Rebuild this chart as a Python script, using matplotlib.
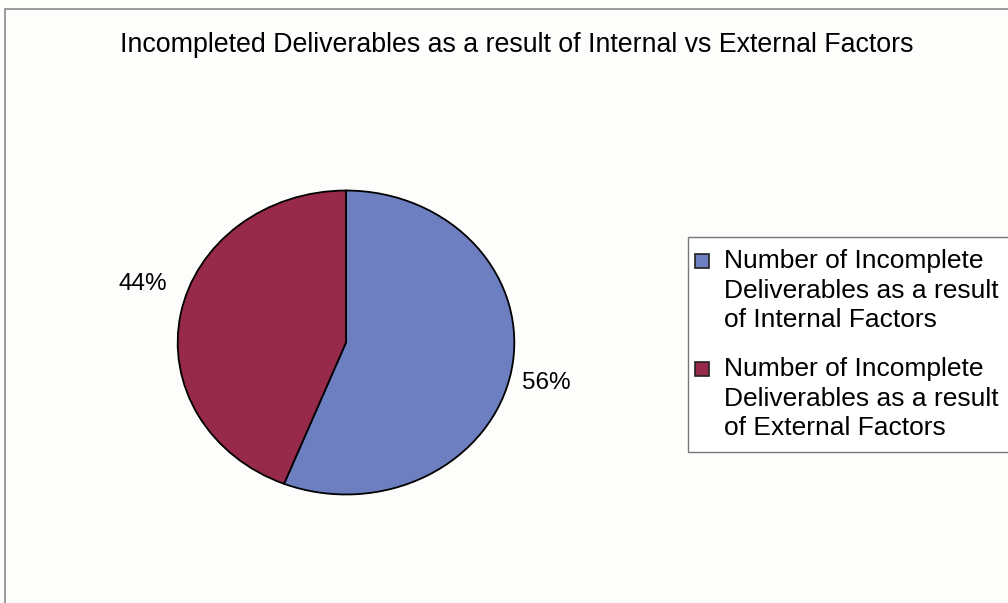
import matplotlib.pyplot as plt
from matplotlib.patches import Rectangle

title = 'Incompleted Deliverables as a result of Internal vs External Factors'
labels = ['Number of Incomplete\nDeliverables as a result\nof Internal Factors',
          'Number of Incomplete\nDeliverables as a result\nof External Factors']
shares = [56, 44]
colors = ['#6d7ec1', '#97294b']

plt.rcParams['font.family'] = ['Liberation Sans', 'DejaVu Sans']

W, H = 1008, 603
fig = plt.figure(figsize=(W / 100, H / 100), dpi=100)
fig.patch.set_facecolor('#fdfdfc')

# outer chart frame (runs off the right and bottom edges)
fig.patches.append(Rectangle((5 / W, -0.05), 1.1, (H - 9) / H + 0.05,
                             transform=fig.transFigure, fill=False,
                             edgecolor='#8a8a8a', linewidth=1.2))

fig.text(517 / W, 1 - 45 / H, title, ha='center', va='center', fontsize=19.3)

ax = fig.add_axes([176 / W, (H - 496) / H, 340 / W, 307 / H])
wedges, texts, autotexts = ax.pie(shares, colors=colors, startangle=90, counterclock=False,
                                  autopct='%1.0f%%', pctdistance=1.21,
                                  wedgeprops=dict(edgecolor='black', linewidth=1.3),
                                  textprops=dict(fontsize=17.5))
ax.set_aspect('auto')
ax.set_xlim(-1.01, 1.01)
ax.set_ylim(-1.01, 1.01)
# excel puts the left label a bit higher
x, y = autotexts[1].get_position()
autotexts[1].set_position((x - 0.02, y + 0.16))
x, y = autotexts[0].get_position()
autotexts[0].set_position((x, y - 0.04))

# legend box, handle lined up with the first line of each entry
fig.patches.append(Rectangle((688 / W, (H - 452) / H), 0.5, 215 / H,
                             transform=fig.transFigure, facecolor='white',
                             edgecolor='#777777', linewidth=1.0))
for i, (lab, col) in enumerate(zip(labels, colors)):
    top = 249 + i * 108
    fig.text(724 / W, 1 - top / H, lab, ha='left', va='top', fontsize=19, linespacing=1.3)
    fig.patches.append(Rectangle((695 / W, 1 - (top + 19) / H), 14 / W, 14 / H,
                                 transform=fig.transFigure, facecolor=col,
                                 edgecolor='#222222', linewidth=1.2))

fig.savefig('out.png', dpi=100, facecolor=fig.get_facecolor())
